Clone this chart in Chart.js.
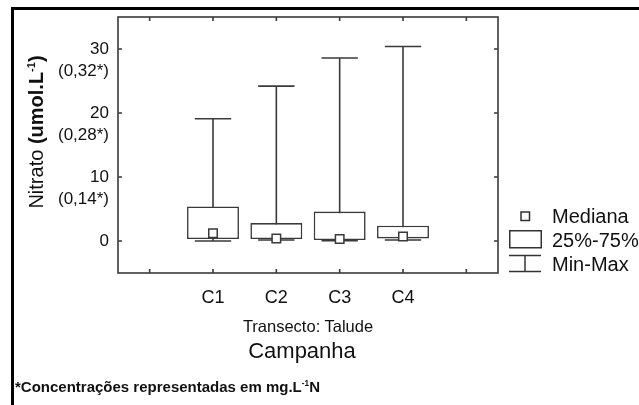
<!DOCTYPE html>
<html>
<head>
<meta charset="utf-8">
<script src="https://cdn.jsdelivr.net/npm/chart.js@4.4.1/dist/chart.umd.min.js"></script>
<style>
  html, body { margin: 0; padding: 0; background: #fff; }
  #wrap { position: relative; width: 639px; height: 405px; overflow: hidden;
          font-family: "Liberation Sans", Arial, sans-serif; color: #111; }
  #wrap canvas { position: absolute; left: 0; top: 0; }
  .frame { position: absolute; left: 11px; top: 7px; width: 800px; height: 600px;
           border-top: 3px solid #000; border-left: 3px solid #000; box-sizing: border-box; }
  .txt { position: absolute; white-space: nowrap; }
  .ytitle { left: 36px; top: 132px; font-size: 20px; line-height: 20px;
            transform: translate(-50%, -50%) rotate(-90deg); }
  .ytitle sup, .foot sup { font-size: 55%; line-height: 0; vertical-align: 0.7em; }
  .xsub { left: 308px; font-size: 16.5px; line-height: 16.5px; transform: translateX(-50%); }
  .xtitle { left: 302px; font-size: 22px; line-height: 22px; transform: translateX(-50%); }
  .leg { left: 552px; font-size: 20px; line-height: 20px; }
  .foot { left: 15px; font-family: "Liberation Sans Narrow", "Arial Narrow", "Liberation Sans", Arial, sans-serif;
          font-weight: bold; font-size: 15px; line-height: 15px; transform-origin: 0 50%; }
  svg.icons { position: absolute; left: 0; top: 0; pointer-events: none; }
</style>
</head>
<body>
<div id="wrap">
  <canvas id="chart" width="639" height="405"></canvas>
  <div class="frame"></div>
  <div class="txt ytitle">Nitrato <b>(umol.L<sup>-1</sup>)</b></div>
  <div class="txt xsub" id="xsub">Transecto: Talude</div>
  <div class="txt xtitle" id="xtitle">Campanha</div>
  <svg class="icons" width="639" height="405">
    <g fill="#fff" stroke="#333" stroke-width="1.5">
      <rect x="521" y="212" width="8.5" height="8.5"></rect>
      <rect x="509.75" y="230.75" width="31.5" height="17"></rect>
      <line x1="509" y1="255.5" x2="541" y2="255.5"></line>
      <line x1="525" y1="255.5" x2="525" y2="271.5"></line>
      <line x1="509" y1="271.5" x2="541" y2="271.5"></line>
    </g>
  </svg>
  <div class="txt leg" id="leg0">Mediana</div>
  <div class="txt leg" id="leg1">25%-75%</div>
  <div class="txt leg" id="leg2">Min-Max</div>
  <div class="txt foot" id="foot">*Concentrações representadas em mg.L<sup>-1</sup>N</div>
</div>
<script>
// Nitrate (umol/L) per sampling campaign, slope transect
const categories  = ['C1', 'C2', 'C3', 'C4'];
const minVals     = [0.0, 0.15, 0.05, 0.15];
const q1Vals      = [0.3, 0.3, 0.15, 0.4];
const medianVals  = [1.2, 0.4, 0.3, 0.7];
const q3Vals      = [5.4, 2.8, 4.6, 2.4];
const maxVals     = [19.1, 24.2, 28.6, 30.4];

// y ticks with their mg/L N equivalents
const yTickValues = [0, 10, 20, 30];
const yTickMg     = ['', '(0,14*)', '(0,28*)', '(0,32*)'];

const FONT = '"Liberation Sans", Arial, sans-serif';
const LINE = '#3a3a3a';

// one empty slot at each end of the category axis
const slotLabels = ['', ...categories, ''];
const pad = arr => [null, ...arr, null];
const boxRanges = categories.map((_, i) => [q1Vals[i], q3Vals[i]]);

// place the html labels by the centre of their capitals
function placeByCapCenter(id, centerY) {
  const el = document.getElementById(id);
  const f = parseFloat(getComputedStyle(el).fontSize);
  el.style.top = (centerY - 0.4885 * f) + 'px';
}
placeByCapCenter('leg0', 216);
placeByCapCenter('leg1', 240);
placeByCapCenter('leg2', 264);
placeByCapCenter('xsub', 326);
placeByCapCenter('xtitle', 351);
placeByCapCenter('foot', 386);

const whiskerPlugin = {
  id: 'whiskers',
  beforeDatasetsDraw(chart) {
    const { ctx, scales: { x, y } } = chart;
    const boxes = chart.getDatasetMeta(1).data;
    ctx.save();
    ctx.strokeStyle = LINE;
    ctx.lineWidth = 1.6;
    categories.forEach((c, i) => {
      const cx = x.getPixelForValue(i + 1);
      const half = boxes[i + 1].width * 0.35;
      const yMin = y.getPixelForValue(minVals[i]);
      const yMax = y.getPixelForValue(maxVals[i]);
      ctx.beginPath();
      ctx.moveTo(cx, yMax); ctx.lineTo(cx, yMin);
      ctx.moveTo(cx - half, yMax); ctx.lineTo(cx + half, yMax);
      ctx.moveTo(cx - half, yMin); ctx.lineTo(cx + half, yMin);
      ctx.stroke();
    });
    ctx.restore();
  },
  afterDraw(chart) {
    const { ctx, chartArea: a, scales: { x, y } } = chart;
    ctx.save();
    ctx.strokeStyle = LINE;
    ctx.lineWidth = 1.6;
    ctx.strokeRect(a.left, a.top, a.right - a.left, a.bottom - a.top);
    ctx.beginPath();
    const t = 4;
    yTickValues.forEach(v => {
      const py = y.getPixelForValue(v);
      ctx.moveTo(a.left, py); ctx.lineTo(a.left + t, py);
      ctx.moveTo(a.right, py); ctx.lineTo(a.right - t, py);
    });
    slotLabels.forEach((_, i) => {
      const px = x.getPixelForTick(i);
      ctx.moveTo(px, a.bottom); ctx.lineTo(px, a.bottom - t);
      ctx.moveTo(px, a.top); ctx.lineTo(px, a.top + t);
    });
    ctx.stroke();
    ctx.restore();
  }
};

new Chart(document.getElementById('chart'), {
  type: 'bar',
  data: {
    labels: slotLabels,
    datasets: [
      {
        type: 'line', label: 'Mediana', data: pad(medianVals), showLine: false,
        pointStyle: 'rect', pointRadius: 6, pointBackgroundColor: '#fff',
        pointBorderColor: LINE, pointBorderWidth: 1.5, order: 0
      },
      {
        type: 'bar', label: '25%-75%', data: pad(boxRanges),
        backgroundColor: '#fff', borderColor: LINE, borderWidth: 1.6,
        borderSkipped: false, barPercentage: 0.82, categoryPercentage: 1, order: 1
      }
    ]
  },
  options: {
    responsive: false,
    animation: false,
    events: [],
    layout: { padding: { top: 17, right: 141, left: 0, bottom: 0 } },
    plugins: { legend: { display: false }, tooltip: { enabled: false } },
    scales: {
      x: {
        offset: true,
        grid: { display: false, drawTicks: false }, border: { display: false },
        ticks: { font: { family: FONT, size: 18 }, color: '#111', padding: 14,
                 maxRotation: 0, autoSkip: false },
        afterFit(s) { s.height = 132; s.paddingLeft = 0; s.paddingRight = 0; }
      },
      y: {
        min: -5, max: 35,
        grid: { display: false, drawTicks: false }, border: { display: false },
        afterBuildTicks(s) { s.ticks = yTickValues.map(v => ({ value: v })); },
        ticks: {
          font: { family: FONT, size: 17, lineHeight: 1.3 }, color: '#111',
          padding: 9, labelOffset: 11,
          callback(v) { return [String(v), yTickMg[yTickValues.indexOf(v)]]; }
        },
        afterFit(s) { s.width = 118; s.paddingTop = 0; s.paddingBottom = 0; }
      }
    }
  },
  plugins: [whiskerPlugin]
});
</script>
</body>
</html>
